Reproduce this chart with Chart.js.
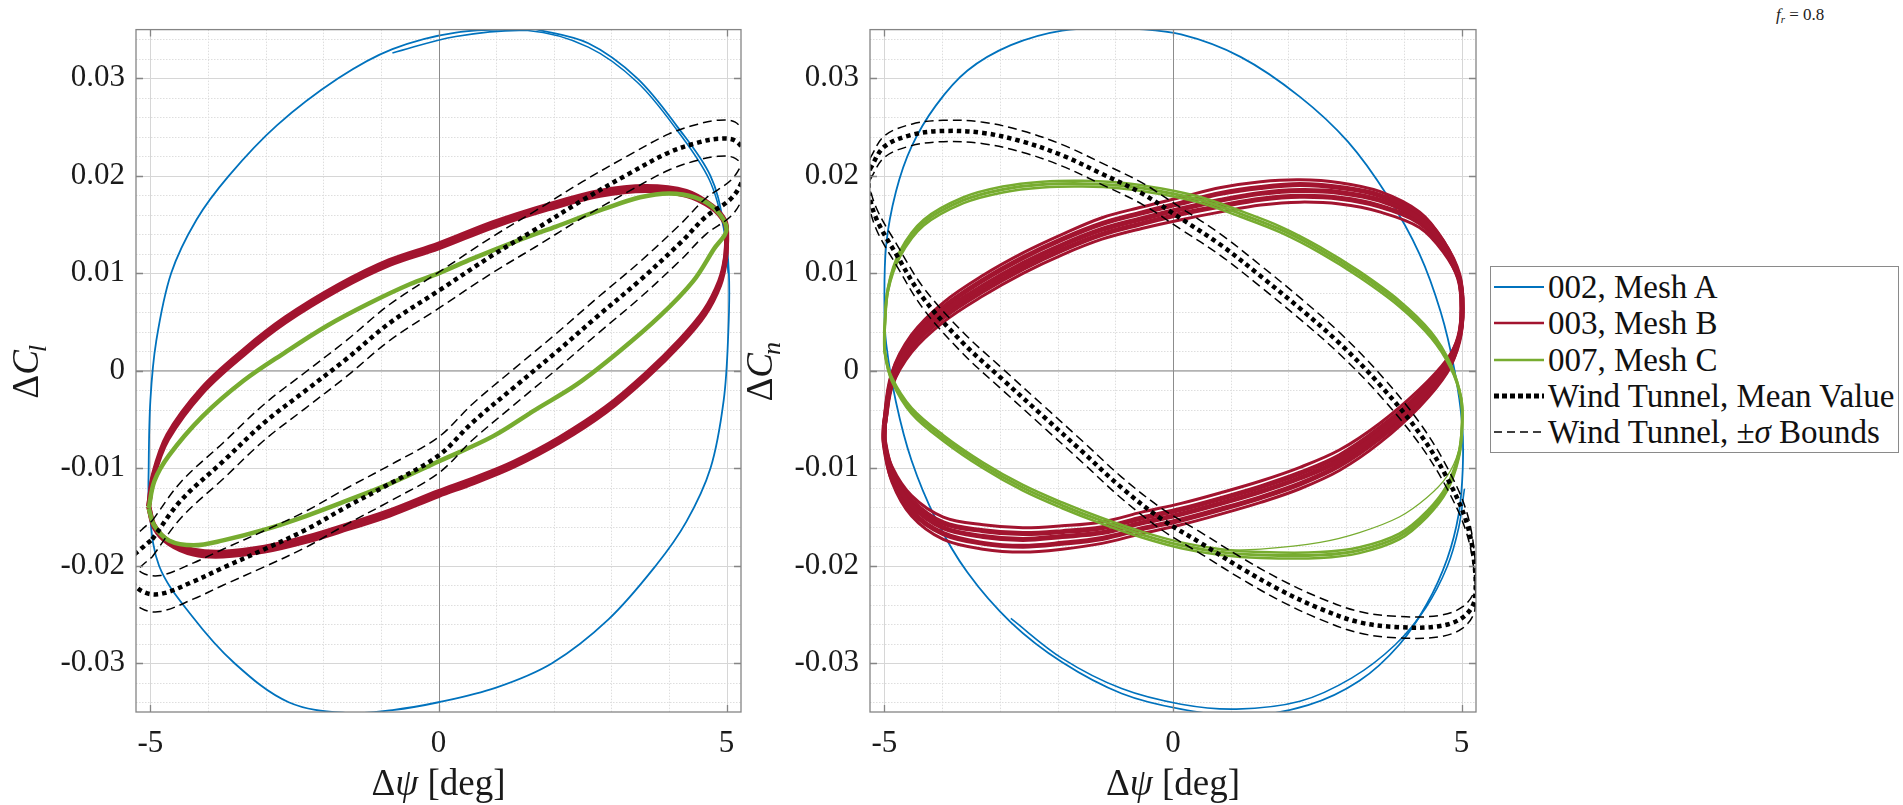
<!DOCTYPE html>
<html>
<head>
<meta charset="utf-8">
<script src="https://cdn.jsdelivr.net/npm/chart.js@4.4.1/dist/chart.umd.min.js"></script>
<style>
html,body{margin:0;padding:0;background:#fff;width:1903px;height:805px;overflow:hidden;}
canvas{position:absolute;top:0;}
#c1{left:0;}
#c2{left:720px;}
#legend{position:absolute;left:1490px;top:266px;width:407px;height:185px;border:1px solid #8a8a8a;background:#fff;font-family:"Liberation Serif",serif;font-size:33px;color:#111;}
#legend .row{position:absolute;left:0;height:36px;line-height:36px;white-space:nowrap;}
#legend svg{position:absolute;left:3px;top:0;}
#legend .txt{position:absolute;left:57px;top:0;}
#fr{position:absolute;left:1776px;top:5px;font-family:"Liberation Serif",serif;font-size:17px;line-height:20px;color:#222;white-space:nowrap;}
</style>
</head>
<body>
<canvas id="c1" width="760" height="805"></canvas>
<canvas id="c2" width="770" height="805"></canvas>
<div id="legend"></div>
<div id="fr"><i>f</i><sub style="font-size:11px;vertical-align:-3px;"><i>r</i></sub> = 0.8</div>
<script>
// ---------------- ticks / labels ----------------
const xTickValues = [-5, 0, 5];
const xTickLabels = ['-5', '0', '5'];
const yTickValues = [-0.03, -0.02, -0.01, 0, 0.01, 0.02, 0.03];
const yTickLabels = ['-0.03', '-0.02', '-0.01', '0', '0.01', '0.02', '0.03'];
const xRange = [-5.25, 5.25];
const yRange = [-0.035, 0.035];
const xTitleParts = ['\u0394', '\u03C8', ' [deg]'];
const yTitleLeft = ['\u0394', 'C', 'l'];
const yTitleRight = ['\u0394', 'C', 'n'];
const legendLabels = ['002, Mesh A', '003, Mesh B', '007, Mesh C', 'Wind Tunnel, Mean Value', 'Wind Tunnel, \u00B1<i>\u03C3</i> Bounds'];

// ---------------- left plot (delta C_l) ----------------
const blueLx = [1.65, 2.60, 3.45, 4.15, 4.72, 4.95, 5.04, 5.03, 4.95, 4.72, 4.30, 3.77, 2.95, 1.97, 1.00, 0.00, -0.80, -1.60, -2.60, -3.54, -4.30, -4.85, -5.02, -5.03, -5.00, -4.90, -4.64, -4.20, -3.64, -2.80, -1.74, -0.80, 0.30, 1.65];
const blueLy = [0.0351, 0.0336, 0.0300, 0.0250, 0.0200, 0.0150, 0.0100, 0.0040, -0.0030, -0.0100, -0.0155, -0.0200, -0.0255, -0.0300, -0.0325, -0.0340, -0.0348, -0.0351, -0.0340, -0.0300, -0.0250, -0.0200, -0.0140, -0.0100, -0.0030, 0.0030, 0.0100, 0.0155, 0.0200, 0.0252, 0.0300, 0.0330, 0.0347, 0.0351];
const blueL2x = [-0.80, 0.30, 1.55, 2.60, 3.45, 4.15, 4.70, 4.95, 5.03];
const blueL2y = [0.0326, 0.0343, 0.0349, 0.0332, 0.0296, 0.0246, 0.0196, 0.0146, 0.0100];

const redLx = [-5.03, -4.95, -4.70, -4.10, -3.38, -2.66, -1.72, -0.85, 0.00, 0.95, 1.90, 2.80, 3.60, 4.30, 4.75, 4.97, 5.00, 4.98, 4.88, 4.62, 4.20, 3.60, 2.90, 2.10, 1.30, 0.60, 0.00, -0.85, -1.58, -2.30, -3.02, -3.74, -4.25, -4.68, -4.93, -5.03];
const redLyA = [-0.0139, -0.0107, -0.0066, -0.0018, 0.0021, 0.0054, 0.0088, 0.0113, 0.0130, 0.0152, 0.0170, 0.0184, 0.0189, 0.0184, 0.0169, 0.0154, 0.0141, 0.0114, 0.0088, 0.0058, 0.0028, -0.0007, -0.0042, -0.0073, -0.0098, -0.0115, -0.0128, -0.0148, -0.0162, -0.0175, -0.0185, -0.0190, -0.0188, -0.0177, -0.0161, -0.0139];
const redLyB = [-0.0139, -0.0109, -0.0070, -0.0022, 0.0017, 0.0050, 0.0084, 0.0109, 0.0126, 0.0148, 0.0166, 0.0180, 0.0185, 0.0180, 0.0167, 0.0152, 0.0141, 0.0116, 0.0092, 0.0062, 0.0032, -0.0003, -0.0038, -0.0069, -0.0094, -0.0111, -0.0124, -0.0144, -0.0158, -0.0171, -0.0181, -0.0186, -0.0184, -0.0175, -0.0159, -0.0139];

const greenLx = [-5.03, -4.93, -4.68, -4.10, -3.38, -2.66, -1.94, -1.21, -0.49, 0.00, 0.59, 1.31, 2.04, 2.87, 3.50, 4.00, 4.45, 4.80, 5.00, 4.78, 4.42, 3.84, 3.12, 2.40, 1.68, 0.95, 0.00, -0.85, -1.58, -2.30, -3.02, -3.74, -4.25, -4.68, -4.93, -5.03];
const greenLy = [-0.0141, -0.0113, -0.0087, -0.0047, -0.0010, 0.0019, 0.0046, 0.0069, 0.0089, 0.0100, 0.0115, 0.0132, 0.0148, 0.0166, 0.0178, 0.0182, 0.0178, 0.0166, 0.0145, 0.0125, 0.0092, 0.0056, 0.0019, -0.0014, -0.0040, -0.0067, -0.0093, -0.0116, -0.0133, -0.0149, -0.0163, -0.0174, -0.0179, -0.0174, -0.0159, -0.0141];

const meanLx = [-4.97, -4.47, -3.74, -3.02, -2.30, -1.58, -0.85, 0.00, 0.95, 1.68, 2.50, 3.30, 4.00, 4.50, 4.85, 5.15, 5.32, 5.30, 5.10, 4.64, 4.21, 3.48, 2.76, 2.04, 1.31, 0.59, 0.00, -0.85, -1.58, -2.30, -3.02, -3.74, -4.25, -4.83, -5.15, -5.35, -5.33, -5.15, -4.97];
const meanLy = [-0.0173, -0.0133, -0.0093, -0.0053, -0.0020, 0.0013, 0.0049, 0.0082, 0.0119, 0.0145, 0.0175, 0.0202, 0.0224, 0.0234, 0.0238, 0.0236, 0.0222, 0.0200, 0.0178, 0.0158, 0.0132, 0.0092, 0.0056, 0.0019, -0.0017, -0.0053, -0.0087, -0.0116, -0.0139, -0.0163, -0.0183, -0.0202, -0.0216, -0.0229, -0.0226, -0.0212, -0.0193, -0.0182, -0.0173];
const upperLy = [-0.0154, -0.0114, -0.0074, -0.0034, -0.0001, 0.0032, 0.0068, 0.0101, 0.0138, 0.0164, 0.0194, 0.0221, 0.0243, 0.0253, 0.0257, 0.0255, 0.0241, 0.0219, 0.0197, 0.0177, 0.0151, 0.0111, 0.0075, 0.0038, 0.0002, -0.0034, -0.0068, -0.0097, -0.0120, -0.0144, -0.0164, -0.0183, -0.0197, -0.0210, -0.0207, -0.0193, -0.0174, -0.0163, -0.0154];
const lowerLy = [-0.0191, -0.0151, -0.0111, -0.0071, -0.0038, -0.0005, 0.0031, 0.0064, 0.0101, 0.0127, 0.0157, 0.0184, 0.0206, 0.0216, 0.0220, 0.0218, 0.0204, 0.0182, 0.0160, 0.0140, 0.0114, 0.0074, 0.0038, 0.0001, -0.0035, -0.0071, -0.0105, -0.0134, -0.0157, -0.0181, -0.0201, -0.0220, -0.0234, -0.0247, -0.0244, -0.0230, -0.0211, -0.0200, -0.0191];

// ---------------- right plot (delta C_n) ----------------
const blueRx = [-0.85, 0.14, 1.17, 2.20, 3.03, 3.72, 4.27, 4.64, 4.88, 5.01, 5.02, 4.95, 4.75, 4.40, 3.92, 3.23, 2.34, 1.24, 0.14, -0.89, -1.92, -2.81, -3.56, -4.11, -4.53, -4.80, -4.97, -5.00, -4.97, -4.80, -4.53, -4.11, -3.56, -2.81, -1.92, -0.85];
const blueRy = [0.0352, 0.0345, 0.0322, 0.0281, 0.0235, 0.0179, 0.0120, 0.0060, 0.0000, -0.0055, -0.0101, -0.0147, -0.0193, -0.0239, -0.0281, -0.0318, -0.0343, -0.0354, -0.0347, -0.0331, -0.0299, -0.0258, -0.0207, -0.0152, -0.0092, -0.0032, 0.0028, 0.0064, 0.0129, 0.0184, 0.0230, 0.0272, 0.0308, 0.0334, 0.0349, 0.0352];
const blueR2x = [-2.81, -1.92, -0.89, 0.14, 1.10, 2.20, 3.10, 3.85, 4.38, 4.75, 4.95, 5.05];
const blueR2y = [-0.0254, -0.0295, -0.0326, -0.0342, -0.0347, -0.0339, -0.0315, -0.0281, -0.0243, -0.0201, -0.0161, -0.0121];

const redRx = [-5.00, -4.87, -4.53, -3.98, -3.29, -2.60, -1.92, -1.23, -0.54, 0.14, 0.83, 1.52, 2.20, 2.89, 3.58, 4.27, 4.68, 4.95, 5.01, 4.95, 4.75, 4.27, 3.58, 2.89, 2.20, 1.52, 0.83, 0.14, -0.54, -1.23, -1.92, -2.60, -3.29, -3.98, -4.53, -4.87, -5.00, -5.00];
const redRyA = [-0.0055, -0.0009, 0.0028, 0.0060, 0.0087, 0.0110, 0.0129, 0.0145, 0.0156, 0.0166, 0.0175, 0.0182, 0.0185, 0.0183, 0.0175, 0.0156, 0.0129, 0.0097, 0.0064, 0.0032, 0.0005, -0.0028, -0.0064, -0.0092, -0.0110, -0.0124, -0.0136, -0.0147, -0.0156, -0.0166, -0.0170, -0.0173, -0.0170, -0.0161, -0.0138, -0.0106, -0.0074, -0.0055];
const redRyB = [-0.0055, -0.0002, 0.0037, 0.0070, 0.0098, 0.0121, 0.0140, 0.0157, 0.0168, 0.0178, 0.0188, 0.0194, 0.0196, 0.0193, 0.0184, 0.0163, 0.0134, 0.0100, 0.0064, 0.0028, -0.0002, -0.0037, -0.0074, -0.0102, -0.0121, -0.0135, -0.0147, -0.0158, -0.0167, -0.0177, -0.0183, -0.0186, -0.0183, -0.0173, -0.0149, -0.0114, -0.0078, -0.0055];
const redRyC = [-0.0055, -0.0016, 0.0019, 0.0050, 0.0077, 0.0100, 0.0119, 0.0135, 0.0146, 0.0155, 0.0163, 0.0170, 0.0173, 0.0171, 0.0163, 0.0147, 0.0122, 0.0093, 0.0064, 0.0036, 0.0012, -0.0019, -0.0054, -0.0081, -0.0099, -0.0113, -0.0125, -0.0136, -0.0145, -0.0155, -0.0159, -0.0161, -0.0158, -0.0150, -0.0128, -0.0098, -0.0070, -0.0055];
const redRyD = [-0.0055, -0.0005, 0.0033, 0.0065, 0.0093, 0.0116, 0.0135, 0.0151, 0.0162, 0.0172, 0.0182, 0.0188, 0.0191, 0.0188, 0.0180, 0.0160, 0.0132, 0.0099, 0.0064, 0.0030, 0.0002, -0.0033, -0.0069, -0.0097, -0.0116, -0.0130, -0.0142, -0.0153, -0.0162, -0.0172, -0.0177, -0.0180, -0.0177, -0.0167, -0.0144, -0.0110, -0.0076, -0.0055];
const redRyE = [-0.0055, -0.0013, 0.0024, 0.0055, 0.0082, 0.0105, 0.0124, 0.0140, 0.0151, 0.0161, 0.0169, 0.0176, 0.0179, 0.0177, 0.0169, 0.0152, 0.0126, 0.0095, 0.0064, 0.0034, 0.0009, -0.0024, -0.0059, -0.0087, -0.0105, -0.0119, -0.0131, -0.0142, -0.0151, -0.0161, -0.0165, -0.0167, -0.0164, -0.0156, -0.0133, -0.0102, -0.0072, -0.0055];

const greenRx = [-5.00, -4.94, -4.73, -4.32, -3.63, -2.95, -2.26, -1.57, -0.89, -0.20, 0.49, 1.17, 1.86, 2.55, 3.23, 3.92, 4.47, 4.81, 4.99, 5.01, 4.95, 4.75, 4.40, 3.92, 3.23, 2.55, 1.52, 0.83, 0.14, -0.54, -1.23, -1.92, -2.60, -3.29, -3.98, -4.53, -4.87, -4.99, -5.00];
const greenRyA = [0.0041, 0.0083, 0.0120, 0.0152, 0.0175, 0.0186, 0.0191, 0.0192, 0.0190, 0.0184, 0.0175, 0.0161, 0.0145, 0.0124, 0.0099, 0.0069, 0.0037, 0.0005, -0.0028, -0.0055, -0.0087, -0.0120, -0.0147, -0.0170, -0.0184, -0.0189, -0.0189, -0.0186, -0.0179, -0.0168, -0.0154, -0.0138, -0.0120, -0.0097, -0.0069, -0.0041, -0.0009, 0.0018, 0.0041];
const greenRyB = [0.0041, 0.0085, 0.0123, 0.0155, 0.0178, 0.0189, 0.0194, 0.0195, 0.0193, 0.0187, 0.0178, 0.0164, 0.0148, 0.0127, 0.0102, 0.0072, 0.0040, 0.0007, -0.0028, -0.0057, -0.0090, -0.0123, -0.0150, -0.0173, -0.0187, -0.0192, -0.0192, -0.0189, -0.0182, -0.0171, -0.0157, -0.0141, -0.0123, -0.0100, -0.0072, -0.0044, -0.0011, 0.0018, 0.0041];
const greenRyC = [0.0041, 0.0081, 0.0117, 0.0149, 0.0172, 0.0183, 0.0188, 0.0189, 0.0187, 0.0181, 0.0172, 0.0158, 0.0142, 0.0121, 0.0096, 0.0066, 0.0034, 0.0003, -0.0028, -0.0053, -0.0084, -0.0117, -0.0144, -0.0167, -0.0181, -0.0186, -0.0186, -0.0183, -0.0176, -0.0165, -0.0151, -0.0135, -0.0117, -0.0094, -0.0066, -0.0038, -0.0007, 0.0018, 0.0041];
const greenR2x = [5.01, 4.95, 4.75, 4.40, 3.92, 3.23, 2.55, 1.52, 0.83];
const greenR2y = [-0.0055, -0.0082, -0.0108, -0.0130, -0.0150, -0.0166, -0.0176, -0.0183, -0.0184];

const meanRx = [-5.25, -5.00, -4.53, -3.98, -3.29, -2.60, -1.92, -1.23, -0.54, 0.14, 0.83, 1.52, 2.20, 2.89, 3.58, 4.27, 4.75, 5.09, 5.23, 5.23, 5.02, 4.61, 3.92, 3.23, 2.55, 1.86, 1.17, 0.49, -0.20, -0.89, -1.57, -2.26, -2.95, -3.63, -4.32, -4.80, -5.14, -5.27, -5.25];
const meanRy = [0.0207, 0.0230, 0.0242, 0.0246, 0.0244, 0.0235, 0.0221, 0.0202, 0.0182, 0.0156, 0.0129, 0.0097, 0.0064, 0.0028, -0.0014, -0.0064, -0.0110, -0.0156, -0.0202, -0.0235, -0.0253, -0.0262, -0.0263, -0.0258, -0.0244, -0.0225, -0.0202, -0.0177, -0.0152, -0.0120, -0.0083, -0.0046, -0.0009, 0.0028, 0.0074, 0.0120, 0.0156, 0.0184, 0.0207];
const upperRy = [0.0218, 0.0241, 0.0253, 0.0257, 0.0255, 0.0246, 0.0232, 0.0213, 0.0193, 0.0167, 0.0140, 0.0108, 0.0075, 0.0039, -0.0003, -0.0053, -0.0099, -0.0145, -0.0191, -0.0224, -0.0242, -0.0251, -0.0252, -0.0247, -0.0233, -0.0214, -0.0191, -0.0166, -0.0141, -0.0109, -0.0072, -0.0035, 0.0002, 0.0039, 0.0085, 0.0131, 0.0167, 0.0195, 0.0218];
const lowerRy = [0.0196, 0.0219, 0.0231, 0.0235, 0.0233, 0.0224, 0.0210, 0.0191, 0.0171, 0.0145, 0.0118, 0.0086, 0.0053, 0.0017, -0.0025, -0.0075, -0.0121, -0.0167, -0.0213, -0.0246, -0.0264, -0.0273, -0.0274, -0.0269, -0.0255, -0.0236, -0.0213, -0.0188, -0.0163, -0.0131, -0.0094, -0.0057, -0.0020, 0.0017, 0.0063, 0.0109, 0.0145, 0.0173, 0.0196];

// ---------------- styles ----------------
const BLUE = '#0072BD', RED = '#A2142F', GREEN = '#77AC30', BLACK = '#000000';
const SERIF = '"Liberation Serif", "DejaVu Serif", serif';

function series(xs, ys, color, width, dash, label) {
  return {
    label: label,
    data: xs.map((x, i) => ({ x: x, y: ys[i] })),
    showLine: true, fill: false,
    borderColor: color, backgroundColor: color,
    borderWidth: width, borderDash: dash || [],
    borderCapStyle: 'butt', borderJoinStyle: 'round',
    pointRadius: 0, pointHoverRadius: 0, pointHitRadius: 0,
    tension: 0.35, clip: 0
  };
}

const frame = {
  id: 'frame',
  beforeDatasetsDraw(chart) {
    const ctx = chart.ctx, ca = chart.chartArea, xs = chart.scales.x, ys = chart.scales.y;
    ctx.save();
    ctx.strokeStyle = '#dedede'; ctx.lineWidth = 1; ctx.setLineDash([1.5, 1.5]);
    for (let v = -5; v <= 5; v++) {
      if (v % 5 === 0) continue;
      const p = Math.round(xs.getPixelForValue(v)) + 0.5;
      ctx.beginPath(); ctx.moveTo(p, ca.top); ctx.lineTo(p, ca.bottom); ctx.stroke();
    }
    for (let k = -17; k <= 17; k++) {
      if (k % 5 === 0) continue;
      const p = Math.round(ys.getPixelForValue(k * 0.002)) + 0.5;
      ctx.beginPath(); ctx.moveTo(ca.left, p); ctx.lineTo(ca.right, p); ctx.stroke();
    }
    ctx.setLineDash([]); ctx.strokeStyle = '#d6d6d6'; ctx.lineWidth = 1;
    xTickValues.forEach(v => {
      const p = Math.round(xs.getPixelForValue(v)) + 0.5;
      ctx.beginPath(); ctx.moveTo(p, ca.top); ctx.lineTo(p, ca.bottom); ctx.stroke();
    });
    yTickValues.forEach(v => {
      const p = Math.round(ys.getPixelForValue(v)) + 0.5;
      ctx.beginPath(); ctx.moveTo(ca.left, p); ctx.lineTo(ca.right, p); ctx.stroke();
    });
    ctx.strokeStyle = '#b3b3b3'; ctx.lineWidth = 1.6;
    let p0 = ys.getPixelForValue(0);
    ctx.beginPath(); ctx.moveTo(ca.left, p0); ctx.lineTo(ca.right, p0); ctx.stroke();
    ctx.strokeStyle = '#8c8c8c'; ctx.lineWidth = 1;
    p0 = Math.round(xs.getPixelForValue(0)) + 0.5;
    ctx.beginPath(); ctx.moveTo(p0, ca.top); ctx.lineTo(p0, ca.bottom); ctx.stroke();
    ctx.restore();
  },
  afterDatasetsDraw(chart) {
    const ctx = chart.ctx, ca = chart.chartArea, xs = chart.scales.x, ys = chart.scales.y;
    ctx.save();
    ctx.strokeStyle = '#858585'; ctx.lineWidth = 1.3; ctx.setLineDash([]);
    ctx.strokeRect(ca.left, ca.top, ca.right - ca.left, ca.bottom - ca.top);
    const L = 7;
    xTickValues.forEach(v => {
      const p = Math.round(xs.getPixelForValue(v)) + 0.5;
      ctx.beginPath(); ctx.moveTo(p, ca.bottom); ctx.lineTo(p, ca.bottom - L);
      ctx.moveTo(p, ca.top); ctx.lineTo(p, ca.top + L); ctx.stroke();
    });
    yTickValues.forEach(v => {
      const p = Math.round(ys.getPixelForValue(v)) + 0.5;
      ctx.beginPath(); ctx.moveTo(ca.left, p); ctx.lineTo(ca.left + L, p);
      ctx.moveTo(ca.right, p); ctx.lineTo(ca.right - L, p); ctx.stroke();
    });
    ctx.restore();
  },
  afterDraw(chart, args, opts) {
    const ctx = chart.ctx, ca = chart.chartArea;
    ctx.save();
    ctx.fillStyle = '#1a1a1a';
    ctx.textBaseline = 'alphabetic'; ctx.textAlign = 'left';
    const fx = ['normal', 'italic', 'normal'];
    let w = 0;
    xTitleParts.forEach((t, i) => { ctx.font = fx[i] + ' 37px ' + SERIF; w += ctx.measureText(t).width; });
    let x = (ca.left + ca.right) / 2 - w / 2;
    xTitleParts.forEach((t, i) => { ctx.font = fx[i] + ' 37px ' + SERIF; ctx.fillText(t, x, 795); x += ctx.measureText(t).width; });
    const parts = opts.yTitle;
    const fonts = ['normal 37px ' + SERIF, 'italic 37px ' + SERIF, 'italic 26px ' + SERIF];
    const offs = [0, 0, 8];
    ctx.translate(ca.left - 98, (ca.top + ca.bottom) / 2);
    ctx.rotate(-Math.PI / 2);
    w = 0;
    parts.forEach((t, i) => { ctx.font = fonts[i]; w += ctx.measureText(t).width; });
    x = -w / 2;
    parts.forEach((t, i) => { ctx.font = fonts[i]; ctx.fillText(t, x, offs[i]); x += ctx.measureText(t).width + (i === 1 ? -2 : 0); });
    ctx.restore();
  }
};

function makeChart(id, yAxisWidth, padRight, datasets, yTitle) {
  return new Chart(document.getElementById(id), {
    type: 'scatter',
    data: { datasets: datasets },
    options: {
      responsive: false, animation: false, maintainAspectRatio: false,
      events: [],
      layout: { padding: { top: 7, right: padRight, bottom: 0, left: 0 } },
      plugins: { legend: { display: false }, tooltip: { enabled: false }, frame: { yTitle: yTitle } },
      scales: {
        x: {
          type: 'linear', min: xRange[0], max: xRange[1],
          grid: { display: false, drawTicks: false }, border: { display: false },
          afterBuildTicks: s => { s.ticks = xTickValues.map(v => ({ value: v })); },
          afterFit: s => { s.height = 93; },
          ticks: { autoSkip: false, maxRotation: 0, padding: 13, color: '#1a1a1a',
                   font: { family: SERIF, size: 31 }, callback: (v, i) => xTickLabels[i] }
        },
        y: {
          type: 'linear', min: yRange[0], max: yRange[1],
          grid: { display: false, drawTicks: false }, border: { display: false },
          afterBuildTicks: s => { s.ticks = yTickValues.map(v => ({ value: v })); },
          afterFit: s => { s.width = yAxisWidth; },
          ticks: { autoSkip: false, padding: 11, color: '#1a1a1a',
                   font: { family: SERIF, size: 31 }, callback: (v, i) => yTickLabels[i] }
        }
      }
    },
    plugins: [frame]
  });
}

// first dataset is drawn on top
const leftSets = [
  series(meanLx, upperLy, BLACK, 1.5, [9, 5], 'Wind Tunnel, \u00B1\u03C3 Bounds'),
  series(meanLx, lowerLy, BLACK, 1.5, [9, 5], 'Wind Tunnel, \u00B1\u03C3 Bounds (lower)'),
  series(meanLx, meanLy, BLACK, 4.5, [4.5, 4], 'Wind Tunnel, Mean Value'),
  series(greenLx, greenLy, GREEN, 4.5, [], '007, Mesh C'),
  series(redLx, redLyA, RED, 5, [], '003, Mesh B'),
  series(redLx, redLyB, RED, 5, [], '003, Mesh B (cycle 2)'),
  series(blueLx, blueLy, BLUE, 1.8, [], '002, Mesh A'),
  series(blueL2x, blueL2y, BLUE, 1.6, [], '002, Mesh A (cycle 2)')
];
const rightSets = [
  series(meanRx, upperRy, BLACK, 1.5, [9, 5], 'Wind Tunnel, \u00B1\u03C3 Bounds'),
  series(meanRx, lowerRy, BLACK, 1.5, [9, 5], 'Wind Tunnel, \u00B1\u03C3 Bounds (lower)'),
  series(meanRx, meanRy, BLACK, 4.5, [4.5, 4], 'Wind Tunnel, Mean Value'),
  series(greenRx, greenRyA, GREEN, 3, [], '007, Mesh C'),
  series(greenRx, greenRyB, GREEN, 2.5, [], '007, Mesh C (cycle 2)'),
  series(greenRx, greenRyC, GREEN, 2.5, [], '007, Mesh C (cycle 3)'),
  series(greenR2x, greenR2y, GREEN, 1.2, [], '007, Mesh C (cycle 4)'),
  series(redRx, redRyA, RED, 5, [], '003, Mesh B'),
  series(redRx, redRyD, RED, 5, [], '003, Mesh B (cycle 2)'),
  series(redRx, redRyE, RED, 5, [], '003, Mesh B (cycle 3)'),
  series(redRx, redRyB, RED, 3, [], '003, Mesh B (cycle 4)'),
  series(redRx, redRyC, RED, 3, [], '003, Mesh B (cycle 5)'),
  series(blueRx, blueRy, BLUE, 1.8, [], '002, Mesh A'),
  series(blueR2x, blueR2y, BLUE, 1.6, [], '002, Mesh A (cycle 2)')
];

makeChart('c1', 136, 19, leftSets, yTitleLeft);
makeChart('c2', 150, 14, rightSets, yTitleRight);

// ---------------- legend ----------------
const legendStyles = [
  { color: BLUE, width: 2, dash: '' },
  { color: RED, width: 2.5, dash: '' },
  { color: GREEN, width: 2.5, dash: '' },
  { color: BLACK, width: 5, dash: '5 3' },
  { color: BLACK, width: 1.5, dash: '8 5' }
];
const legendEl = document.getElementById('legend');
legendLabels.forEach((lab, i) => {
  const st = legendStyles[i];
  const row = document.createElement('div');
  row.className = 'row';
  row.style.top = (2 + i * 36.3) + 'px';
  row.style.width = '405px';
  row.innerHTML = '<svg width="52" height="36"><line x1="0" y1="18" x2="50" y2="18" stroke="' + st.color +
    '" stroke-width="' + st.width + '"' + (st.dash ? ' stroke-dasharray="' + st.dash + '"' : '') + '/></svg>' +
    '<span class="txt">' + lab + '</span>';
  legendEl.appendChild(row);
});
</script>
</body>
</html>
